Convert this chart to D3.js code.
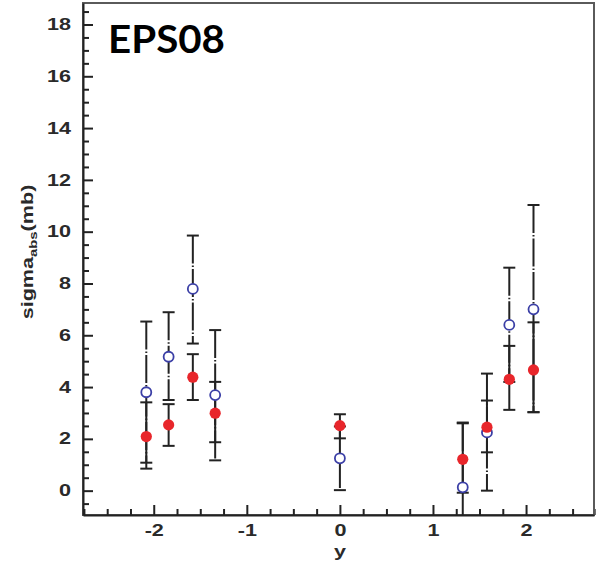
<!DOCTYPE html>
<html>
<head>
<meta charset="utf-8">
<script src="https://cdn.jsdelivr.net/npm/d3@7"></script>
<style>
  html, body { margin: 0; padding: 0; background: #fff; }
  svg { display: block; }
</style>
</head>
<body>
<svg id="chart" width="596" height="563"></svg>
<script>
// Rapidity bins and absorption cross sections (mb)
const rapidity   = [-2.08, -1.84, -1.58, -1.34, 0, 1.32, 1.58, 1.82, 2.08];
const openVal    = [3.80, 5.17, 7.79, 3.69, 1.25, 0.13, 2.25, 6.40, 7.00];
const openLo     = [1.08, 3.50, 5.68, 1.17, 0.02, -2.34, 0.00, 4.20, 3.03];
const openHi     = [6.53, 6.89, 9.85, 6.20, 2.48, 2.60, 4.52, 8.61, 11.03];
const filledVal  = [2.09, 2.54, 4.38, 2.99, 2.51, 1.21, 2.45, 4.30, 4.66];
const filledLo   = [0.85, 1.73, 3.50, 1.87, 2.02, -0.08, 1.48, 3.12, 3.03];
const filledHi   = [3.41, 3.34, 5.27, 4.20, 2.95, 2.63, 3.48, 5.59, 6.50];
const xMajorTicks = [-2, -1, 0, 1, 2];
const yMajorTicks = [0, 2, 4, 6, 8, 10, 12, 14, 16, 18];
const titleText = "EPS08";
const xTitle = "y";

const svg = d3.select("#chart");
const plotL = 83, plotR = 594, plotT = 3, plotB = 515;
const x = d3.scaleLinear().domain([-2.76, 2.73]).range([plotL, plotR]);
const y = d3.scaleLinear().domain([-0.94, 18.83]).range([plotB, plotT]);
const stretch = 1.35;
const ink = "#222";

svg.append("defs").append("clipPath").attr("id", "plot")
  .append("rect").attr("x", plotL).attr("y", plotT)
  .attr("width", plotR - plotL).attr("height", plotB - plotT);

// frame
svg.append("rect").attr("x", plotL).attr("y", plotT)
  .attr("width", plotR - plotL).attr("height", plotB - plotT)
  .attr("fill", "none").attr("stroke", "#5a5a5a").attr("stroke-width", 2);

// minor ticks
const yMinor = d3.range(-0.5, 18.9, 0.5).filter(v => !yMajorTicks.includes(v));
const xMinor = d3.range(-2.75, 2.76, 0.25).filter(v => !xMajorTicks.includes(v));
svg.append("g").attr("transform", `translate(${plotL},0)`)
  .call(d3.axisLeft(y).tickValues(yMinor).tickFormat("").tickSizeInner(-6).tickSizeOuter(0))
  .call(g => g.select(".domain").remove())
  .selectAll("line").attr("stroke", ink).attr("stroke-width", 2);
svg.append("g").attr("transform", `translate(0,${plotB})`)
  .call(d3.axisBottom(x).tickValues(xMinor).tickFormat("").tickSizeInner(-6).tickSizeOuter(0))
  .call(g => g.select(".domain").remove())
  .selectAll("line").attr("stroke", ink).attr("stroke-width", 2);

// major axes
const yAxis = svg.append("g").attr("transform", `translate(${plotL},0)`)
  .call(d3.axisLeft(y).tickValues(yMajorTicks).tickFormat(d3.format("d"))
    .tickSizeInner(-10).tickSizeOuter(0).tickPadding(12));
const xAxis = svg.append("g").attr("transform", `translate(0,${plotB})`)
  .call(d3.axisBottom(x).tickValues(xMajorTicks).tickFormat(d => String(d).replace("\u2212", "-"))
    .tickSizeInner(-10).tickSizeOuter(0).tickPadding(6));

[yAxis, xAxis].forEach(g => {
  g.select(".domain").attr("stroke", ink).attr("stroke-width", 2);
  g.selectAll(".tick line").attr("stroke", ink).attr("stroke-width", 2);
  g.selectAll(".tick text")
    .attr("fill", "#2a2a2a")
    .attr("font-family", "Liberation Sans, Arial, sans-serif")
    .attr("font-weight", "bold")
    .attr("font-size", 16);
});
yAxis.selectAll(".tick text")
  .attr("x", -12 / stretch)
  .attr("transform", `scale(${stretch},1)`);
xAxis.selectAll(".tick text")
  .attr("y", 21).attr("dy", 0)
  .attr("transform", `scale(${stretch},1)`);

// axis titles
svg.append("text")
  .attr("transform", `translate(${x(0)},557) scale(${stretch},1)`)
  .attr("text-anchor", "middle")
  .attr("font-family", "Liberation Sans, Arial, sans-serif")
  .attr("font-weight", "bold").attr("font-size", 16).attr("fill", "#2a2a2a")
  .text(xTitle);

const yLab = svg.append("text")
  .attr("transform", `translate(33,252) rotate(-90) scale(${stretch},1)`)
  .attr("text-anchor", "middle")
  .attr("font-family", "Liberation Sans, Arial, sans-serif")
  .attr("font-weight", "bold").attr("font-size", 16).attr("fill", "#2a2a2a");
yLab.append("tspan").text("sigma");
yLab.append("tspan").attr("font-size", 11).attr("dy", 4).text("abs");
yLab.append("tspan").attr("dy", -4).text("(mb)");

// data
const rows = rapidity.map((r, i) => ({
  r, ov: openVal[i], olo: openLo[i], ohi: openHi[i],
  fv: filledVal[i], flo: filledLo[i], fhi: filledHi[i]
}));
const plot = svg.append("g").attr("clip-path", "url(#plot)");
const cap = 6;

function errorBars(g, lo, hi, dash) {
  const eb = g.append("g").selectAll("g").data(rows).join("g");
  eb.append("line")
    .attr("x1", d => x(d.r)).attr("x2", d => x(d.r))
    .attr("y1", d => y(hi(d))).attr("y2", d => y(lo(d)))
    .attr("stroke", ink).attr("stroke-width", 2)
    .attr("stroke-dasharray", dash);
  [lo, hi].forEach(f => {
    eb.append("line")
      .attr("x1", d => x(d.r) - cap).attr("x2", d => x(d.r) + cap)
      .attr("y1", d => y(f(d))).attr("y2", d => y(f(d)))
      .attr("stroke", ink).attr("stroke-width", 2);
  });
}
// open-circle uncertainties use a long dash-dot line, filled-circle ones are solid
errorBars(plot, d => d.olo, d => d.ohi, "28,2,1.5,2");
errorBars(plot, d => d.flo, d => d.fhi, null);

plot.append("g").selectAll("circle").data(rows).join("circle")
  .attr("cx", d => x(d.r)).attr("cy", d => y(d.ov)).attr("r", 5)
  .attr("fill", "#fff").attr("stroke", "#3b3fa6").attr("stroke-width", 1.8);
plot.append("g").selectAll("circle").data(rows).join("circle")
  .attr("cx", d => x(d.r)).attr("cy", d => y(d.fv)).attr("r", 5.6)
  .attr("fill", "#e8262b");

// panel title
svg.append("text")
  .attr("x", 108).attr("y", 53)
  .attr("font-family", "Lato, 'Open Sans', sans-serif")
  .attr("font-weight", 700).attr("font-size", 39)
  .attr("textLength", 117).attr("lengthAdjust", "spacingAndGlyphs")
  .attr("fill", "#000")
  .text(titleText);
</script>
</body>
</html>
